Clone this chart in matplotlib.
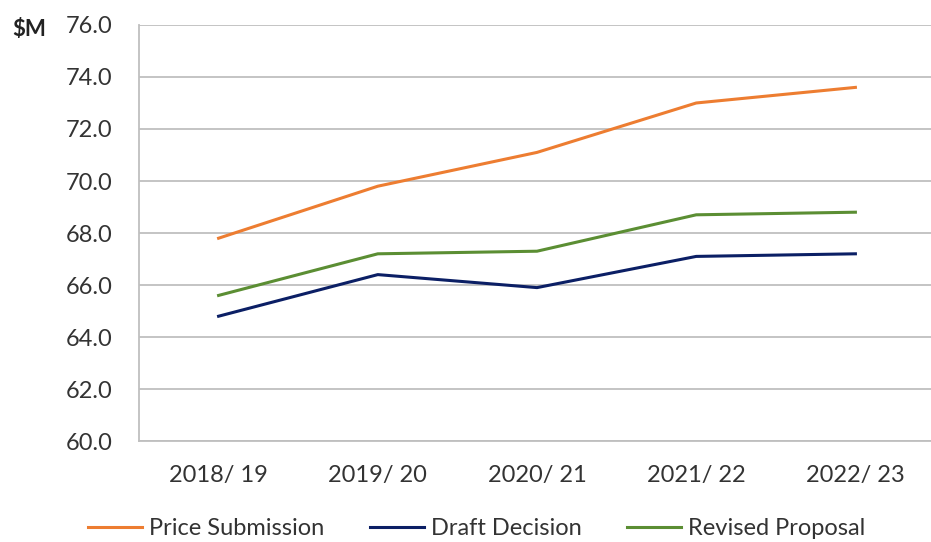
import numpy as np
import matplotlib.pyplot as plt

# 年度和三条曲线的数值 ($M)
years = ['2018/ 19', '2019/ 20', '2020/ 21', '2021/ 22', '2022/ 23']
price_submission = [67.8, 69.8, 71.1, 73.0, 73.6]
draft_decision = [64.8, 66.4, 65.9, 67.1, 67.2]
revised_proposal = [65.6, 67.2, 67.3, 68.7, 68.8]

plt.rcParams['font.family'] = ['Lato', 'DejaVu Sans']

fig = plt.figure(figsize=(9.31, 5.42), dpi=100)
ax = fig.add_axes([0.1493, 0.1863, 0.855, 0.7676])

x = np.arange(len(years))
ax.plot(x, price_submission, color='#ED7D31', lw=2.2, label='Price Submission')
ax.plot(x, draft_decision, color='#0B1F65', lw=2.2, label='Draft Decision')
ax.plot(x, revised_proposal, color='#5B8E33', lw=2.2, label='Revised Proposal')

ax.set_xlim(-0.5, 4.5)
ax.set_ylim(60, 76)
ax.set_yticks(np.arange(60, 77, 2))
ax.set_yticklabels([f'{v:.1f}' for v in np.arange(60, 77, 2)])
ax.set_xticks(x)
ax.set_xticklabels(years)
ax.tick_params(length=0, labelsize=17, colors='#333333')
ax.tick_params(axis='y', pad=19)
ax.tick_params(axis='x', pad=17)
ax.grid(axis='y', color='#BFBFBF', lw=1.3)
ax.set_axisbelow(True)
for s in ['top', 'right']:
    ax.spines[s].set_visible(False)
for s in ['left', 'bottom']:
    ax.spines[s].set_color('#BFBFBF')
    ax.spines[s].set_linewidth(1.3)

fig.text(0.013, 0.945, '$M', fontsize=16, fontweight='bold', color='#222222', va='center')

fig.legend(loc='center', bbox_to_anchor=(0.512, 0.024), ncol=3, frameon=False,
           fontsize=17, handlelength=2.3, columnspacing=1.9, handletextpad=0.3,
           labelcolor='#333333')

fig.savefig('out.png')
